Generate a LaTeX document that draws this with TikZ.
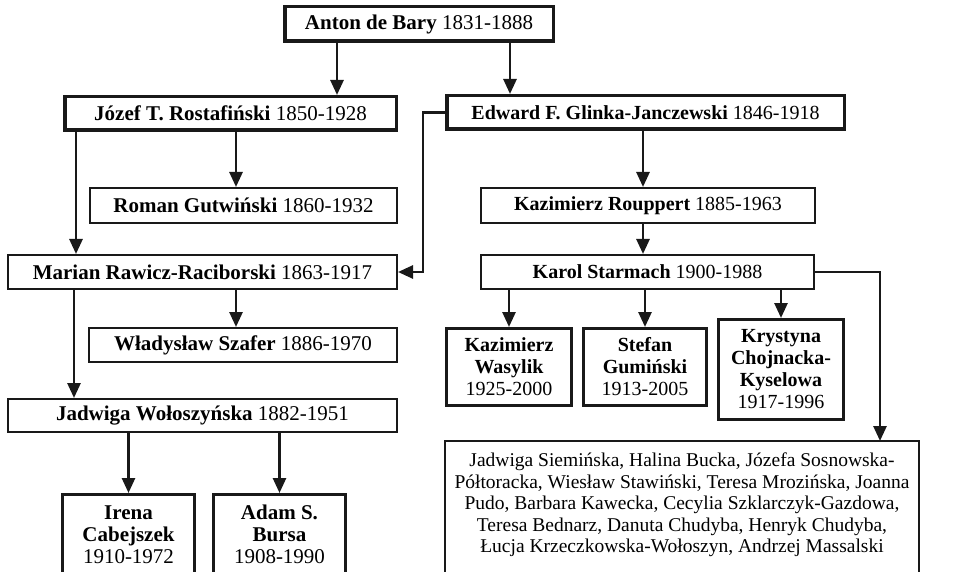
\documentclass[tikz,border=0pt]{standalone}
\usepackage{fontspec}
\setmainfont{Liberation Serif}
\usetikzlibrary{arrows.meta}
\begin{document}
\begin{tikzpicture}[x=1pt,y=-1pt,
  box/.style={draw=black!90, line width=2pt, inner sep=0pt, align=center,
    font=\fontsize{20}{22}\selectfont},
  big/.style={font=\fontsize{21}{22}\selectfont},
  thickbox/.style={box, line width=3.5pt},
  midbox/.style={box, line width=3pt},
  conn/.style={draw=black!90, line width=2.7pt, line join=miter,
    -{Triangle[length=15pt,width=13pt]}}]
\useasboundingbox (0,0) rectangle (953,572);

\node[thickbox, big, minimum width=268.5, minimum height=34.5] (bary) at (419,24) {\textbf{Anton de Bary} 1831-1888};
\node[thickbox, big, minimum width=331.5, minimum height=33.5] (rost) at (230.5,113.5) {\textbf{Józef T. Rostafiński} 1850-1928};
\node[thickbox, minimum width=397.5, minimum height=33.5] (glinka) at (645.5,112.5) {\textbf{Edward F. Glinka-Janczewski} 1846-1918};
\node[box, big, minimum width=307, minimum height=35] (gutw) at (243.5,205.5) {\textbf{Roman Gutwiński} 1860-1932};
\node[box, big, minimum width=389, minimum height=34] (marian) at (202.5,272) {\textbf{Marian Rawicz-Raciborski} 1863-1917};
\node[box, big, minimum width=308, minimum height=34] (szafer) at (243,345) {\textbf{Władysław Szafer} 1886-1970};
\node[box, big, minimum width=389, minimum height=33] (wolo) at (202.5,415.5) {\textbf{Jadwiga Wołoszyńska} 1882-1951};
\node[midbox, big, minimum width=132, minimum height=80] (irena) at (128.5,534.5) {\textbf{Irena}\\\textbf{Cabejszek}\\1910-1972};
\node[midbox, big, minimum width=132, minimum height=80] (bursa) at (279.5,534.5) {\textbf{Adam S.}\\\textbf{Bursa}\\1908-1990};
\node[box, minimum width=334, minimum height=35] (roup) at (648,205.5) {\textbf{Kazimierz Rouppert} 1885-1963};
\node[box, minimum width=333, minimum height=34] (star) at (647.5,272) {\textbf{Karol Starmach} 1900-1988};
\node[midbox, minimum width=125, minimum height=77] (wasyl) at (509,367) {\textbf{Kazimierz}\\\textbf{Wasylik}\\1925-2000};
\node[midbox, minimum width=123, minimum height=77] (gumin) at (645,367) {\textbf{Stefan}\\\textbf{Gumiński}\\1913-2005};
\node[midbox, minimum width=125, minimum height=100] (kryst) at (781,369.5) {\textbf{Krystyna}\\\textbf{Chojnacka-}\\\textbf{Kyselowa}\\1917-1996};
\node[box, draw=none, font=\fontsize{19.5}{21.6}\selectfont, minimum width=472, minimum height=126] (list) at (682,505) {Jadwiga Siemińska, Halina Bucka, Józefa Sosnowska-\\Półtoracka, Wiesław Stawiński, Teresa Mrozińska, Joanna\\Pudo, Barbara Kawecka, Cecylia Szklarczyk-Gazdowa,\\Teresa Bednarz, Danuta Chudyba, Henryk Chudyba,\\Łucja Krzeczkowska-Wołoszyn, Andrzej Massalski};
\draw[draw=black!90, line width=2pt] (list.north west) rectangle (list.east |- 0,578);

\draw[conn] (bary.south -| 337,0) -- (rost.north -| 337,0);
\draw[conn] (bary.south -| 510,0) -- (glinka.north -| 510,0);
\draw[conn] (rost.south -| 236,0) -- (gutw.north -| 236,0);
\draw[conn] (rost.south -| 76,0) -- (marian.north -| 76,0);
\draw[conn] (glinka.west) -- (423,0 |- glinka.west) -- (423,0 |- marian.east) -- (marian.east);
\draw[conn] (marian.south -| 236,0) -- (szafer.north -| 236,0);
\draw[conn] (marian.south -| 74,0) -- (wolo.north -| 74,0);
\draw[conn] (wolo.south -| irena.north) -- (irena.north);
\draw[conn] (wolo.south -| bursa.north) -- (bursa.north);
\draw[conn] (glinka.south -| 643,0) -- (roup.north -| 643,0);
\draw[conn] (roup.south -| 643,0) -- (star.north -| 643,0);
\draw[conn] (star.south -| wasyl.north) -- (wasyl.north);
\draw[conn] (star.south -| gumin.north) -- (gumin.north);
\draw[conn] (star.south -| kryst.north) -- (kryst.north);
\draw[conn] (star.east) -- (880,0 |- star.east) -- (880,0 |- list.north);
\end{tikzpicture}
\end{document}
